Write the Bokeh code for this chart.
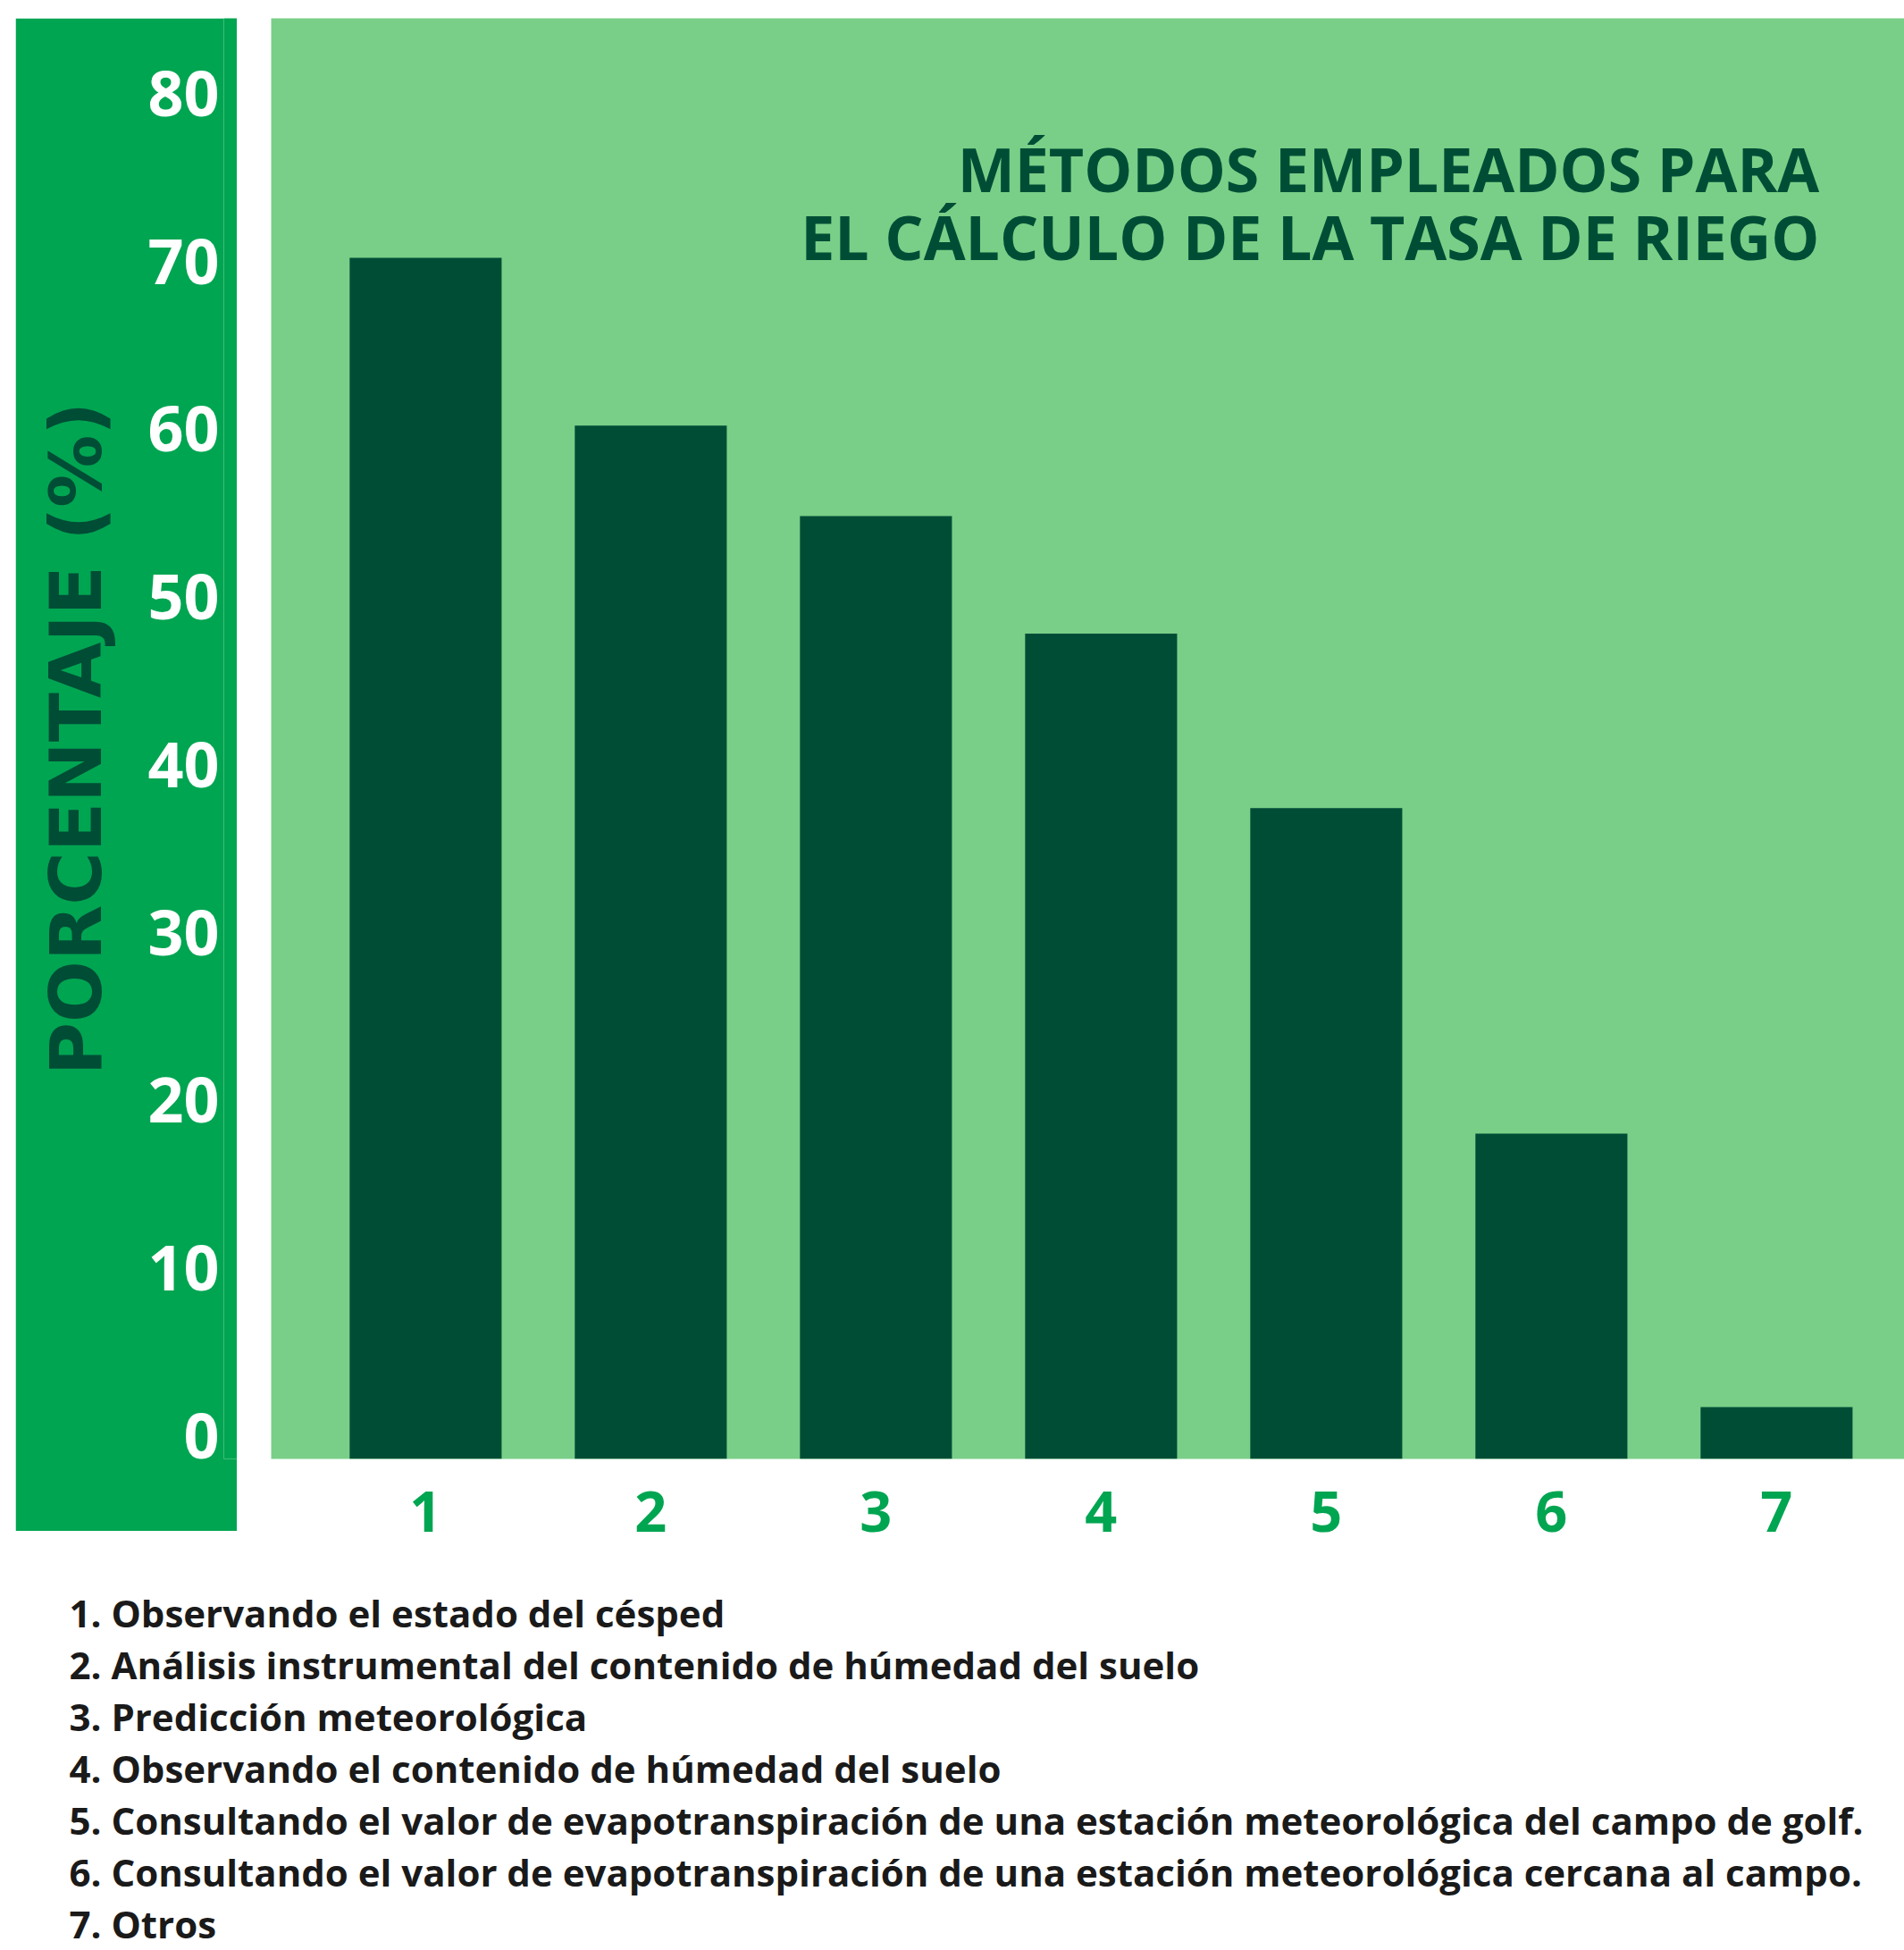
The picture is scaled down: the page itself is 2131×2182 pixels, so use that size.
from bokeh.plotting import figure
from bokeh.layouts import row, column
from bokeh.models import Range1d, FixedTicker, Label, Spacer, ColumnDataSource
from bokeh.embed import file_html
from bokeh.resources import INLINE
from bokeh.core.properties import value

# ---------------- data ----------------
categories = [1, 2, 3, 4, 5, 6, 7]
percentages = [70.2, 60.2, 54.8, 47.8, 37.4, 18.0, 1.7]
y_ticks = [0, 10, 20, 30, 40, 50, 60, 70, 80]
title_lines = ["MÉTODOS EMPLEADOS PARA", "EL CÁLCULO DE LA TASA DE RIEGO"]
y_axis_title = "PORCENTAJE (%)"
legend_items = [
    "1. Observando el estado del césped",
    "2. Análisis instrumental del contenido de húmedad del suelo",
    "3. Predicción meteorológica",
    "4. Observando el contenido de húmedad del suelo",
    "5. Consultando el valor de evapotranspiración de una estación meteorológica del campo de golf.",
    "6. Consultando el valor de evapotranspiración de una estación meteorológica cercana al campo.",
    "7. Otros",
]
legend_rows = [1, 2, 3, 4, 5, 6, 7]

# ---------------- styles / layout ----------------
PANEL = "#00A551"
LIGHT = "#79CF87"
DARK = "#004D36"
TEXT = "#1A1A1A"

Y_MIN, Y_MAX = -1.385, 84.47
MAIN_W, MAIN_H = 1828, 1748
X_MIN = 0.314
X_MAX = X_MIN + MAIN_W / 252.0
BAR_W = 0.675
TITLE_X = 7.19
TITLE_Y = [75.5, 71.45]

y_range = Range1d(Y_MIN, Y_MAX)

# left dark-green panel with the value axis
left = figure(width=248, height=1693, x_range=Range1d(0, 1), y_range=y_range,
              output_backend="svg", toolbar_location=None, x_axis_location=None,
              min_border_left=233, min_border_right=0, min_border_top=0,
              min_border_bottom=81)
left.background_fill_color = PANEL
left.border_fill_color = PANEL
left.outline_line_color = None
left.grid.visible = False
ya = left.yaxis[0]
ya.ticker = FixedTicker(ticks=y_ticks)
ya.axis_line_color = None
ya.major_tick_line_color = None
ya.minor_tick_line_color = None
ya.major_tick_in = 0
ya.major_tick_out = 0
ya.major_label_standoff = 5
ya.major_label_text_font = "Open Sans"
ya.major_label_text_font_style = "bold"
ya.major_label_text_font_size = "70px"
ya.major_label_text_color = "white"
ya.axis_label = y_axis_title
ya.axis_label_text_font = "DejaVu Sans"
ya.axis_label_text_font_style = "bold"
ya.axis_label_text_font_size = "81px"
ya.axis_label_text_color = DARK
ya.axis_label_standoff = 30

# main plot
main = figure(width=MAIN_W, height=MAIN_H, x_range=Range1d(X_MIN, X_MAX), y_range=y_range,
              output_backend="svg", toolbar_location=None, y_axis_location=None,
              min_border_left=0, min_border_right=0, min_border_top=20,
              min_border_bottom=MAIN_H - 20 - 1612)
main.background_fill_color = LIGHT
main.border_fill_color = "white"
main.outline_line_color = None
main.grid.visible = False

src = ColumnDataSource(dict(x=categories, top=percentages))
main.vbar(x="x", top="top", bottom=Y_MIN, width=BAR_W, source=src,
          fill_color=DARK, line_color=None)

xa = main.xaxis[0]
xa.ticker = FixedTicker(ticks=categories)
xa.axis_line_color = None
xa.major_tick_line_color = None
xa.minor_tick_line_color = None
xa.major_tick_in = 0
xa.major_tick_out = 0
xa.major_label_standoff = 36
xa.major_label_text_font = "Open Sans"
xa.major_label_text_font_style = "bold"
xa.major_label_text_font_size = "63px"
xa.major_label_text_color = PANEL

for txt, yv in zip(title_lines, TITLE_Y):
    main.add_layout(Label(x=TITLE_X, y=yv, text=txt, text_align="right",
                          text_baseline="alphabetic", text_font="Open Sans",
                          text_font_style="bold", text_font_size="68px",
                          text_color=DARK))

# legend block
LEG_W, LEG_H, LINE_PX = 2131, 2182 - MAIN_H, 58
LEG_LEFT = 77
FIRST_PX = 56
leg = figure(width=LEG_W, height=LEG_H,
             x_range=Range1d(-LEG_LEFT, LEG_W - LEG_LEFT),
             y_range=Range1d(1 + (LEG_H - FIRST_PX) / LINE_PX, 1 - FIRST_PX / LINE_PX),
             output_backend="svg", toolbar_location=None,
             x_axis_location=None, y_axis_location=None,
             min_border_left=0, min_border_right=0, min_border_top=0,
             min_border_bottom=0)
leg.outline_line_color = None
leg.grid.visible = False
leg.background_fill_color = "white"
leg.border_fill_color = "white"
lsrc = ColumnDataSource(dict(row=legend_rows, label=legend_items))
leg.text(x=0, y="row", text="label", source=lsrc, text_font=value("Open Sans"),
         text_font_style="bold", text_font_size="42px", text_color=TEXT,
         text_align="left", text_baseline="alphabetic")

top_row = row(Spacer(width=17, height=1693),
              column(Spacer(width=248, height=20), left),
              Spacer(width=38, height=10),
              main)
layout = column(top_row, leg)

open("out.html", "w").write(file_html(layout, INLINE))
